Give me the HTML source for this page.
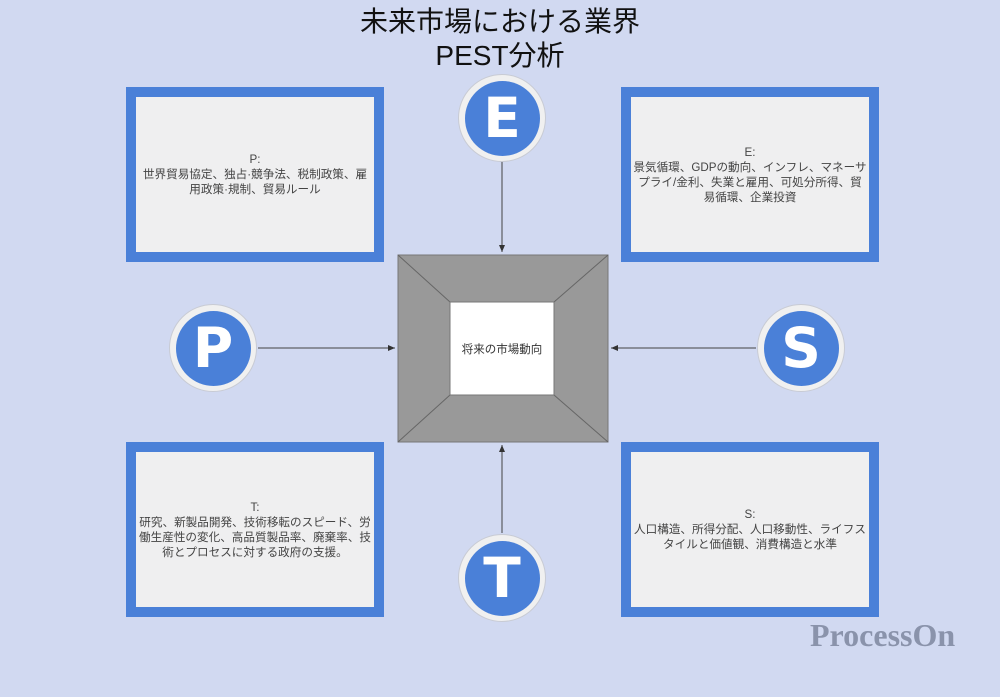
<!DOCTYPE html>
<html><head><meta charset="utf-8"><style>
body{margin:0;width:1000px;height:697px;background:#d1d9f1;position:relative;overflow:hidden;font-family:"Liberation Sans","Noto Sans CJK JP",sans-serif}
.box{position:absolute;width:234px;padding:0 2px;height:155px;border:10px solid #4a80d8;background:#efeff0;display:flex;align-items:center;justify-content:center;text-align:center;font-size:11.6px;color:#444;line-height:15px}
.c{position:absolute;width:86px;height:86px;border-radius:50%;background:#f0f0f0;border:1px solid #c8cbd4;display:flex;align-items:center;justify-content:center}
.c div{width:75px;height:75px;border-radius:50%;background:#4a80d8;color:#fff;font-weight:bold;font-size:55px;display:flex;align-items:center;justify-content:center;font-family:"DejaVu Sans","Liberation Sans",sans-serif}
</style></head><body>
<div style="position:absolute;left:0;width:1000px;top:5px;text-align:center;font-size:28px;line-height:34px;color:#111">未来市場における業界<br>PEST分析</div>
<div class="box" style="left:126px;top:87px">P:<br>世界貿易協定、独占·競争法、税制政策、雇用政策·規制、貿易ルール</div>
<div class="box" style="left:621px;top:87px">E:<br>景気循環、GDPの動向、インフレ、マネーサプライ/金利、失業と雇用、可処分所得、貿易循環、企業投資</div>
<div class="box" style="left:126px;top:442px">T:<br>研究、新製品開発、技術移転のスピード、労働生産性の変化、高品質製品率、廃棄率、技術とプロセスに対する政府の支援。</div>
<div class="box" style="left:621px;top:442px">S:<br>人口構造、所得分配、人口移動性、ライフスタイルと価値観、消費構造と水準</div>
<svg style="position:absolute;left:0;top:0" width="1000" height="697">
<defs><marker id="a" markerWidth="8" markerHeight="8" refX="7" refY="4" orient="auto"><path d="M0,1 L7,4 L0,7z" fill="#333"/></marker></defs>
<polygon points="398,255 608,255 608,442 398,442" fill="#999" stroke="#777"/>
<line x1="398" y1="255" x2="450" y2="302" stroke="#666"/><line x1="608" y1="255" x2="554" y2="302" stroke="#666"/>
<line x1="398" y1="442" x2="450" y2="395" stroke="#666"/><line x1="608" y1="442" x2="554" y2="395" stroke="#666"/>
<rect x="450" y="302" width="104" height="93" fill="#fff" stroke="#777"/>
<text x="502" y="353" text-anchor="middle" font-size="11.5" fill="#333">将来の市場動向</text>
<line x1="502" y1="162" x2="502" y2="252" stroke="#444" marker-end="url(#a)"/>
<line x1="502" y1="533" x2="502" y2="445" stroke="#444" marker-end="url(#a)"/>
<line x1="258" y1="348" x2="395" y2="348" stroke="#444" marker-end="url(#a)"/>
<line x1="756" y1="348" x2="611" y2="348" stroke="#444" marker-end="url(#a)"/>
</svg>
<div class="c" style="left:458px;top:74px"><div>E</div></div>
<div class="c" style="left:169px;top:304px"><div>P</div></div>
<div class="c" style="left:757px;top:304px"><div>S</div></div>
<div class="c" style="left:458px;top:534px"><div>T</div></div>
<div style="position:absolute;left:810px;top:617px;font-family:'Liberation Serif',serif;font-weight:bold;font-size:32px;color:#8a93ab">ProcessOn</div>
</body></html>
